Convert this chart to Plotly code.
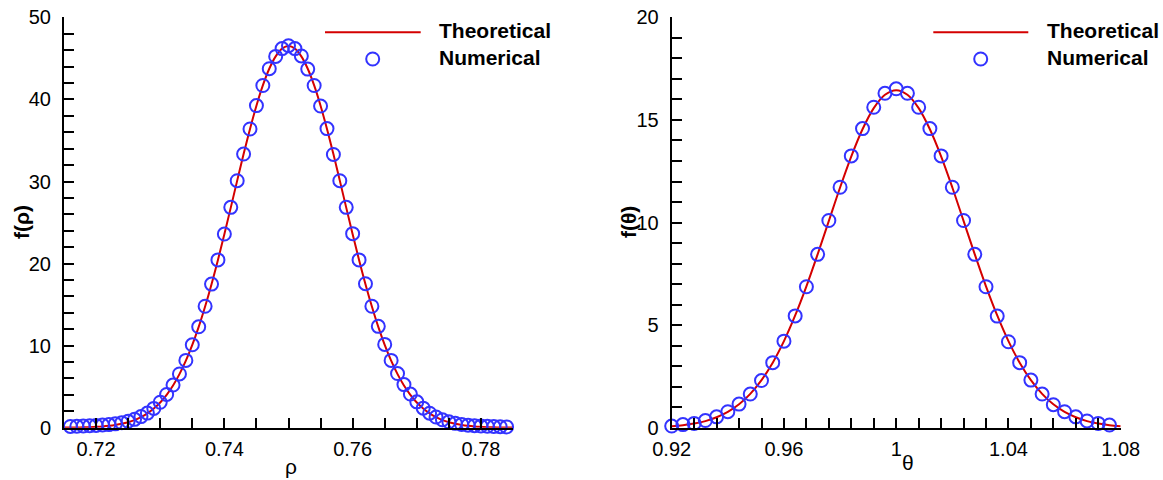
import plotly.graph_objects as go

# ---------------- data ----------------
rho_theory = [0.715, 0.716, 0.717, 0.718, 0.719, 0.720, 0.721, 0.722, 0.723, 0.724,
              0.725, 0.726, 0.727, 0.728, 0.729, 0.730, 0.731, 0.732, 0.733, 0.734,
              0.735, 0.736, 0.737, 0.738, 0.739, 0.740, 0.741, 0.742, 0.743, 0.744,
              0.745, 0.746, 0.747, 0.748, 0.749, 0.750, 0.751, 0.752, 0.753, 0.754,
              0.755, 0.756, 0.757, 0.758, 0.759, 0.760, 0.761, 0.762, 0.763, 0.764,
              0.765, 0.766, 0.767, 0.768, 0.769, 0.770, 0.771, 0.772, 0.773, 0.774,
              0.775, 0.776, 0.777, 0.778, 0.779, 0.780, 0.781, 0.782, 0.783, 0.784,
              0.785]
f_rho_theory = [0.011, 0.018, 0.029, 0.044, 0.068, 0.103, 0.154, 0.227, 0.329, 0.472,
                0.667, 0.93, 1.28, 1.74, 2.33, 3.07, 4.01, 5.15, 6.53, 8.17,
                10.09, 12.28, 14.76, 17.49, 20.44, 23.58, 26.82, 30.11, 33.34, 36.41,
                39.24, 41.71, 43.74, 45.25, 46.19, 46.5, 46.19, 45.25, 43.74, 41.71,
                39.24, 36.41, 33.34, 30.11, 26.82, 23.58, 20.44, 17.49, 14.76, 12.28,
                10.09, 8.17, 6.53, 5.15, 4.01, 3.07, 2.33, 1.74, 1.28, 0.93,
                0.667, 0.472, 0.329, 0.227, 0.154, 0.103, 0.068, 0.044, 0.029, 0.018,
                0.011]

rho_num = [0.716, 0.717, 0.718, 0.719, 0.720, 0.721, 0.722, 0.723, 0.724, 0.725,
           0.726, 0.727, 0.728, 0.729, 0.730, 0.731, 0.732, 0.733, 0.734, 0.735,
           0.736, 0.737, 0.738, 0.739, 0.740, 0.741, 0.742, 0.743, 0.744, 0.745,
           0.746, 0.747, 0.748, 0.749, 0.750, 0.751, 0.752, 0.753, 0.754, 0.755,
           0.756, 0.757, 0.758, 0.759, 0.760, 0.761, 0.762, 0.763, 0.764, 0.765,
           0.766, 0.767, 0.768, 0.769, 0.770, 0.771, 0.772, 0.773, 0.774, 0.775,
           0.776, 0.777, 0.778, 0.779, 0.780, 0.781, 0.782, 0.783, 0.784]
f_rho_num = [0.15, 0.17, 0.2, 0.23, 0.27, 0.32, 0.38, 0.47, 0.6, 0.78,
             1.02, 1.35, 1.78, 2.35, 3.1, 4.05, 5.2, 6.55, 8.2, 10.1,
             12.3, 14.8, 17.5, 20.45, 23.6, 26.85, 30.1, 33.35, 36.4, 39.25,
             41.7, 43.75, 45.25, 46.2, 46.55, 46.2, 45.3, 43.7, 41.7, 39.2,
             36.45, 33.3, 30.1, 26.85, 23.65, 20.45, 17.55, 14.8, 12.35, 10.15,
             8.2, 6.6, 5.25, 4.1, 3.15, 2.38, 1.77, 1.3, 0.97, 0.72,
             0.53, 0.4, 0.31, 0.25, 0.2, 0.17, 0.14, 0.12, 0.1]

theta_theory = [0.920, 0.924, 0.928, 0.932, 0.936, 0.940, 0.944, 0.948, 0.952, 0.956,
                0.960, 0.964, 0.968, 0.972, 0.976, 0.980, 0.984, 0.988, 0.992, 0.996,
                1.000, 1.004, 1.008, 1.012, 1.016, 1.020, 1.024, 1.028, 1.032, 1.036,
                1.040, 1.044, 1.048, 1.052, 1.056, 1.060, 1.064, 1.068, 1.072, 1.076,
                1.080]
f_theta_theory = [0.071, 0.12, 0.20, 0.32, 0.51, 0.77, 1.14, 1.65, 2.32, 3.17,
                  4.22, 5.47, 6.89, 8.45, 10.08, 11.71, 13.23, 14.55, 15.58, 16.23,
                  16.45, 16.23, 15.58, 14.55, 13.23, 11.71, 10.08, 8.45, 6.89, 5.47,
                  4.22, 3.17, 2.32, 1.65, 1.14, 0.77, 0.51, 0.32, 0.20, 0.12,
                  0.071]

theta_num = [0.920, 0.924, 0.928, 0.932, 0.936, 0.940, 0.944, 0.948, 0.952, 0.956,
             0.960, 0.964, 0.968, 0.972, 0.976, 0.980, 0.984, 0.988, 0.992, 0.996,
             1.000, 1.004, 1.008, 1.012, 1.016, 1.020, 1.024, 1.028, 1.032, 1.036,
             1.040, 1.044, 1.048, 1.052, 1.056, 1.060, 1.064, 1.068, 1.072, 1.076]
f_theta_num = [0.08, 0.15, 0.21, 0.35, 0.53, 0.78, 1.15, 1.64, 2.3, 3.17,
               4.22, 5.45, 6.87, 8.45, 10.1, 11.72, 13.25, 14.58, 15.62, 16.3,
               16.52, 16.3, 15.62, 14.58, 13.25, 11.72, 10.1, 8.45, 6.87, 5.44,
               4.19, 3.17, 2.32, 1.64, 1.12, 0.78, 0.53, 0.33, 0.21, 0.13]

legend_labels = ["Theoretical", "Numerical"]
x_titles = ["ρ", "θ"]
y_titles = ["f(ρ)", "f(θ)"]

# ---------------- styling ----------------
W, H = 1163, 480
RED = "#d40000"
BLUE = "#3333ff"
FONT = "Liberation Sans, Arial, Helvetica, sans-serif"

fig = go.Figure()

fig.add_trace(go.Scatter(x=rho_theory, y=f_rho_theory, mode="lines",
                         line=dict(color=RED, width=2, shape="spline"),
                         xaxis="x", yaxis="y", showlegend=False, name=legend_labels[0]))
fig.add_trace(go.Scatter(x=rho_num, y=f_rho_num, mode="markers",
                         marker=dict(symbol="circle-open", size=13, color=BLUE,
                                     line=dict(width=2, color=BLUE)),
                         cliponaxis=False, xaxis="x", yaxis="y", showlegend=False,
                         name=legend_labels[1]))
fig.add_trace(go.Scatter(x=theta_theory, y=f_theta_theory, mode="lines",
                         line=dict(color=RED, width=2, shape="spline"),
                         xaxis="x2", yaxis="y2", showlegend=False, name=legend_labels[0]))
fig.add_trace(go.Scatter(x=theta_num, y=f_theta_num, mode="markers",
                         marker=dict(symbol="circle-open", size=13, color=BLUE,
                                     line=dict(width=2, color=BLUE)),
                         cliponaxis=False, xaxis="x2", yaxis="y2", showlegend=False,
                         name=legend_labels[1]))

def px_x(p):
    return p / W

def px_y(p):
    return 1 - p / H

ydom = [px_y(427.7), px_y(17.4)]
x1dom = [px_x(64), px_x(513)]
x2dom = [px_x(671.7), px_x(1120.7)]

common = dict(showline=True, linecolor="black", linewidth=2, mirror=False,
              ticks="inside", ticklen=10, tickwidth=2, tickcolor="black",
              showgrid=False, zeroline=False, automargin=False,
              tickfont=dict(family=FONT, size=20, color="black"))

def minor(dt, t0):
    return dict(ticks="inside", ticklen=10, tickwidth=2, tickcolor="black",
                dtick=dt, tick0=t0, showgrid=False)

fig.update_layout(
    template="none",
    width=W, height=H,
    margin=dict(l=0, r=0, t=0, b=0, autoexpand=False),
    paper_bgcolor="white", plot_bgcolor="white",
    font=dict(family=FONT, color="black"),
    xaxis=dict(domain=x1dom, anchor="y", range=[0.715, 0.785],
               tick0=0.72, dtick=0.02, minor=minor(0.005, 0.72),
               ticklabelstandoff=2, **common),
    yaxis=dict(domain=ydom, anchor="x", range=[0, 50], tick0=0, dtick=10,
               minor=minor(2, 0), ticklabelstandoff=7, **common),
    xaxis2=dict(domain=x2dom, anchor="y2", range=[0.92, 1.08],
                tick0=0.92, dtick=0.04, minor=minor(0.008, 0.92),
                ticklabelstandoff=2, **common),
    yaxis2=dict(domain=ydom, anchor="x2", range=[0, 20], tick0=0, dtick=5,
                minor=minor(1, 0), ticklabelstandoff=7, **common),
)

annotations = []
shapes = []

# axis titles
annotations.append(dict(text=x_titles[0], x=px_x(291), y=px_y(466), xref="paper", yref="paper",
                        xanchor="center", yanchor="middle", showarrow=False,
                        font=dict(family=FONT, size=21, color="black")))
annotations.append(dict(text=x_titles[1], x=px_x(907.5), y=px_y(462), xref="paper", yref="paper",
                        xanchor="center", yanchor="middle", showarrow=False,
                        font=dict(family=FONT, size=21, color="black")))
annotations.append(dict(text="<b>" + y_titles[0] + "</b>", x=px_x(21), y=px_y(222), xref="paper",
                        yref="paper", xanchor="center", yanchor="middle", showarrow=False,
                        textangle=-90, font=dict(family=FONT, size=21, color="black")))
annotations.append(dict(text="<b>" + y_titles[1] + "</b>", x=px_x(628), y=px_y(222), xref="paper",
                        yref="paper", xanchor="center", yanchor="middle", showarrow=False,
                        textangle=-90, font=dict(family=FONT, size=21, color="black")))

# hand-drawn legends (one per panel)
for (lx0, lx1, mx, tx) in [(325, 420.7, 372.7, 436.7), (933.3, 1028.3, 980.7, 1045)]:
    shapes.append(dict(type="line", xref="paper", yref="paper",
                       x0=px_x(lx0), x1=px_x(lx1), y0=px_y(32.3), y1=px_y(32.3),
                       line=dict(color=RED, width=2)))
    shapes.append(dict(type="circle", xref="paper", yref="paper",
                       xsizemode="pixel", ysizemode="pixel",
                       xanchor=px_x(mx), yanchor=px_y(59),
                       x0=-6.5, x1=6.5, y0=-6.5, y1=6.5,
                       line=dict(color=BLUE, width=2)))
    annotations.append(dict(text="<b>" + legend_labels[0] + "</b>", x=px_x(tx), y=px_y(31),
                            xref="paper", yref="paper", xanchor="left", yanchor="middle",
                            showarrow=False, font=dict(family=FONT, size=21, color="black")))
    annotations.append(dict(text="<b>" + legend_labels[1] + "</b>", x=px_x(tx), y=px_y(57.5),
                            xref="paper", yref="paper", xanchor="left", yanchor="middle",
                            showarrow=False, font=dict(family=FONT, size=21, color="black")))

fig.update_layout(annotations=annotations, shapes=shapes)

fig.write_html("out.html")
